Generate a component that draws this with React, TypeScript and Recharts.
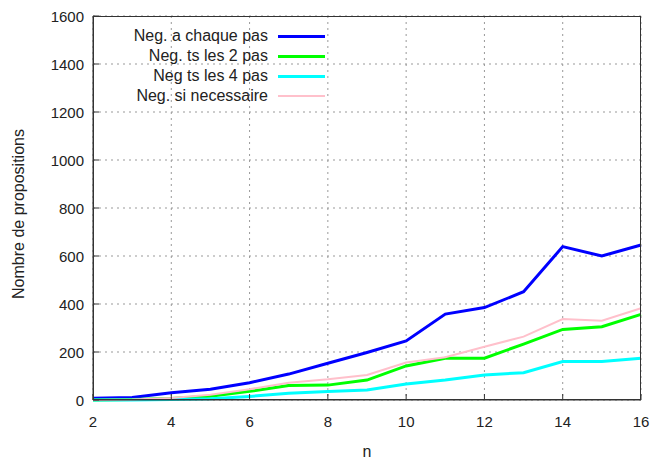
import { LineChart, Line, XAxis, YAxis, CartesianGrid } from "recharts";

const nValues = [2, 3, 4, 5, 6, 7, 8, 9, 10, 11, 12, 13, 14, 15, 16];
const chaquePas = [7, 10, 30, 45, 72, 108, 153, 198, 246, 358, 385, 451, 639, 600, 646];
const deuxPas = [0, 2, 6, 16, 36, 60, 62, 83, 142, 174, 174, 233, 294, 305, 357];
const quatrePas = [0, 0, 2, 5, 15, 28, 35, 42, 67, 83, 104, 114, 160, 160, 174];
const siNecessaire = [0, 2, 8, 22, 45, 72, 86, 104, 156, 178, 222, 264, 337, 330, 382];

const xTicks = [2, 4, 6, 8, 10, 12, 14, 16];
const yTicks = [0, 200, 400, 600, 800, 1000, 1200, 1400, 1600];

const series = [
  { key: "chaque", name: "Neg. a chaque pas", color: "#0000ff", width: 3 },
  { key: "deux", name: "Neg. ts les 2 pas", color: "#00ff00", width: 3 },
  { key: "quatre", name: "Neg ts les 4 pas", color: "#00ffff", width: 3 },
  { key: "sinec", name: "Neg. si necessaire", color: "#ffc0cb", width: 2 },
];

const data = nValues.map((n, i) => ({
  n,
  chaque: chaquePas[i],
  deux: deuxPas[i],
  quatre: quatrePas[i],
  sinec: siNecessaire[i],
}));

const FONT = "'Liberation Sans', Arial, sans-serif";
const AXIS = "#333";
const TEXT = "#222";

const BottomTick = (props: any) => {
  const { x, y, payload } = props;
  return (
    <g>
      <line x1={x} y1={y} x2={x} y2={y - 6} stroke={AXIS} />
      <text x={x} y={y + 27} textAnchor="middle" fontSize={15} fill={TEXT} fontFamily={FONT}>
        {payload.value}
      </text>
    </g>
  );
};

const TopTick = (props: any) => {
  const { x, y } = props;
  return <line x1={x} y1={y} x2={x} y2={y + 6} stroke={AXIS} />;
};

const LeftTick = (props: any) => {
  const { x, y, payload } = props;
  return (
    <g>
      <line x1={x} y1={y} x2={x + 6} y2={y} stroke={AXIS} />
      <text x={x - 9} y={y + 5.5} textAnchor="end" fontSize={15} fill={TEXT} fontFamily={FONT}>
        {payload.value}
      </text>
    </g>
  );
};

const RightTick = (props: any) => {
  const { x, y } = props;
  return <line x1={x} y1={y} x2={x - 6} y2={y} stroke={AXIS} />;
};

const LegendBox = () => (
  <div style={{ fontFamily: FONT, fontSize: 16, color: TEXT }}>
    {series.map((s) => (
      <div key={s.key} style={{ display: "flex", alignItems: "center", height: 20 }}>
        <span style={{ width: 175, textAlign: "right", whiteSpace: "nowrap" }}>{s.name}</span>
        <span
          style={{
            display: "inline-block",
            marginLeft: 10,
            width: 47,
            height: s.width,
            background: s.color,
          }}
        />
      </div>
    ))}
  </div>
);

export default function App() {
  return (
    <div style={{ position: "absolute", left: 0, top: 0, width: 653, height: 460, background: "#fff" }}>
      <LineChart width={653} height={460} data={data} margin={{ top: 16, right: 12, bottom: 0, left: 0 }}>
        <CartesianGrid stroke="#999" strokeDasharray="2 4" />
        <XAxis
          dataKey="n"
          type="number"
          domain={[2, 16]}
          ticks={xTicks}
          height={60}
          tickSize={0}
          tickMargin={0}
          tickLine={false}
          stroke={AXIS}
          tick={<BottomTick />}
          label={{ value: "n", position: "insideBottom", offset: 3, fontSize: 16, fill: TEXT, fontFamily: FONT }}
        />
        <XAxis
          xAxisId="top"
          orientation="top"
          dataKey="n"
          type="number"
          domain={[2, 16]}
          ticks={xTicks}
          height={0}
          tickSize={0}
          tickLine={false}
          stroke={AXIS}
          tick={<TopTick />}
        />
        <YAxis
          type="number"
          domain={[0, 1600]}
          ticks={yTicks}
          width={93}
          tickSize={0}
          tickMargin={0}
          tickLine={false}
          stroke={AXIS}
          tick={<LeftTick />}
          label={{
            value: "Nombre de propositions",
            angle: -90,
            position: "insideLeft",
            offset: 18,
            dy: 6,
            fontSize: 16,
            fill: TEXT,
            fontFamily: FONT,
            style: { textAnchor: "middle" },
          }}
        />
        <YAxis
          yAxisId="right"
          orientation="right"
          type="number"
          domain={[0, 1600]}
          ticks={yTicks}
          width={0}
          tickSize={0}
          tickLine={false}
          stroke={AXIS}
          tick={<RightTick />}
        />
        {series.map((s) => (
          <Line
            key={s.key}
            dataKey={s.key}
            name={s.name}
            stroke={s.color}
            strokeWidth={s.width}
            dot={false}
            type="linear"
            isAnimationActive={false}
          />
        ))}
      </LineChart>
      <div
        style={{
          position: "absolute",
          left: 93,
          top: 16,
          width: 548,
          height: 384,
          boxSizing: "border-box",
          border: `1px solid ${AXIS}`,
          pointerEvents: "none",
        }}
      />
      <div style={{ position: "absolute", left: 93, top: 26 }}>
        <LegendBox />
      </div>
    </div>
  );
}
